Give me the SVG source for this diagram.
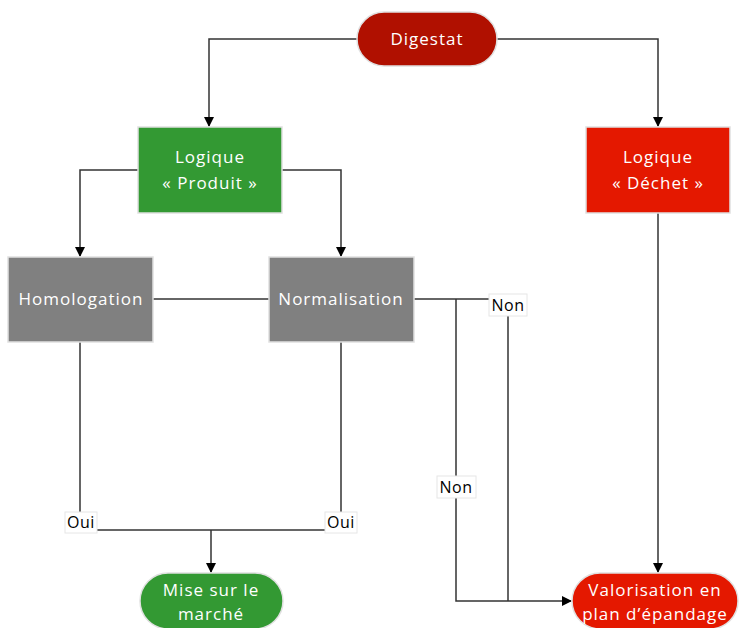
<svg xmlns="http://www.w3.org/2000/svg" width="740" height="628" viewBox="0 0 740 628">
<style>
.t{font-family:"Open Sans","Noto Sans","DejaVu Sans",sans-serif;font-size:17px;letter-spacing:1px;fill:#ffffff;text-anchor:middle}
.l{font-family:"Open Sans","Noto Sans","DejaVu Sans",sans-serif;font-size:16px;letter-spacing:0.5px;fill:#000000;text-anchor:middle}
.c{fill:none;stroke:#333333;stroke-width:1.5}
.lb{fill:#ffffff;stroke:#e6e6e6;stroke-width:1}
.sh{stroke:#e0e0e0;stroke-width:1.5}
</style>
<defs>
<marker id="ar" markerWidth="10" markerHeight="10" refX="9" refY="5" orient="auto" markerUnits="userSpaceOnUse" viewBox="0 0 10 10">
<path d="M0,0 L10,5 L0,10 Z" fill="#000000"/>
</marker>
</defs>
<rect width="740" height="628" fill="#ffffff"/>
<g id="connectors">
<path class="c" d="M357,39 H209 V126" marker-end="url(#ar)"/>
<path class="c" d="M497,39 H658 V126" marker-end="url(#ar)"/>
<path class="c" d="M138,170 H80 V256" marker-end="url(#ar)"/>
<path class="c" d="M282,170 H341 V256" marker-end="url(#ar)"/>
<path class="c" d="M153,299 H269"/>
<path class="c" d="M414,299 H489"/>
<path class="c" d="M456,299 V601 H571" marker-end="url(#ar)"/>
<path class="c" d="M508,316 V601"/>
<path class="c" d="M658,213 V572" marker-end="url(#ar)"/>
<path class="c" d="M80,342 V512"/>
<path class="c" d="M341,342 V512"/>
<path class="c" d="M97,530 H325"/>
<path class="c" d="M211,530 V572" marker-end="url(#ar)"/>
<g id="lbl-non1"><rect class="lb" x="489" y="294" width="38" height="22"/><text class="l" x="508" y="311">Non</text></g>
<g id="lbl-non2"><rect class="lb" x="437" y="476" width="39" height="22"/><text class="l" x="456" y="493">Non</text></g>
<g id="lbl-oui1"><rect class="lb" x="65" y="512" width="32" height="21"/><text class="l" x="81" y="528">Oui</text></g>
<g id="lbl-oui2"><rect class="lb" x="325" y="512" width="32" height="21"/><text class="l" x="341" y="528">Oui</text></g>
</g>
<g id="digestat">
<rect class="sh" x="357" y="12" width="140" height="54" rx="27" fill="#b01000"/>
<text class="t" x="427" y="45">Digestat</text>
</g>
<g id="logique-produit">
<rect class="sh" x="138" y="127" width="144" height="86" fill="#339933"/>
<text class="t" x="210" y="163">Logique</text>
<text class="t" x="210" y="189">« Produit »</text>
</g>
<g id="logique-dechet">
<rect class="sh" x="586" y="127" width="144" height="86" fill="#e41800"/>
<text class="t" x="658" y="163">Logique</text>
<text class="t" x="658" y="189">« Déchet »</text>
</g>
<g id="homologation">
<rect class="sh" x="8" y="257" width="145" height="85" fill="#808080"/>
<text class="t" x="81" y="305">Homologation</text>
</g>
<g id="normalisation">
<rect class="sh" x="269" y="257" width="145" height="85" fill="#808080"/>
<text class="t" x="341" y="305">Normalisation</text>
</g>
<g id="mise-sur-le-marche">
<rect class="sh" x="140" y="573" width="143" height="56" rx="28" fill="#339933"/>
<text class="t" x="211" y="596">Mise sur le</text>
<text class="t" x="211" y="620">marché</text>
</g>
<g id="valorisation">
<rect class="sh" x="572" y="573" width="166" height="56" rx="28" fill="#e41800"/>
<text class="t" x="655" y="596">Valorisation en</text>
<text class="t" x="655" y="620">plan d’épandage</text>
</g>
</svg>
